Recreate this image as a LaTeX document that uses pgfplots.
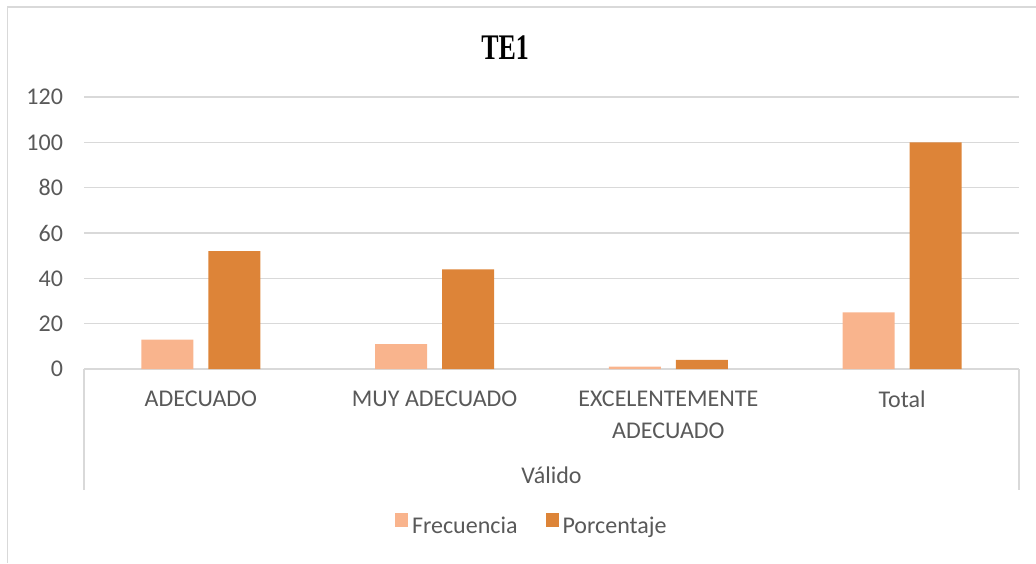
\documentclass[border=0pt]{standalone}
\usepackage{pgfplots}
\pgfplotsset{compat=1.18}
\usepackage{fontspec}
\setmainfont{Carlito}
\newfontfamily\titlefont[FakeStretch=0.72]{Liberation Serif}
\definecolor{fre}{HTML}{F9B48D}
\definecolor{por}{HTML}{DD8438}
\definecolor{gridc}{HTML}{D9D9D9}
\definecolor{txt}{HTML}{595959}
\begin{document}
\begin{tikzpicture}
\useasboundingbox (-42pt,-97pt) rectangle (476pt,184.5pt);
\draw[gridc, line width=0.75pt] (-38.25pt,-97pt) -- (-38.25pt,181pt) -- (476pt,181pt);
\begin{axis}[
  name=ax,
  at={(0,0)}, anchor=south west,
  scale only axis,
  width=467.5pt, height=136pt,
  xmin=-0.5, xmax=3.5, ymin=0, ymax=120,
  ytick={0,20,...,120},
  xtick={0,1,2,3},
  xticklabels={ADECUADO, MUY ADECUADO, {EXCELENTEMENTE\\ADECUADO}, Total},
  major tick length=0pt,
  axis x line*=bottom, axis y line*=left,
  x axis line style={draw=gridc, line width=0.6pt},
  y axis line style={draw=none},
  ymajorgrids, major grid style={draw=gridc, line width=0.6pt},
  /pgf/number format/assume math mode=true,
  tick label style={font=\fontsize{12}{16}\selectfont, text=txt},
  yticklabel style={xshift=-7pt},
  xticklabel style={align=center, anchor=north, yshift=-7.6pt},
  title={TE1},
  title style={font=\titlefont\bfseries\fontsize{18}{20}\selectfont, text=black, at={(axis description cs:0.4503,1.1397)}, anchor=base, yshift=-6pt},
  xlabel={Válido},
  xlabel style={font=\fontsize{12}{14}\selectfont, text=txt, at={(axis description cs:0.5,0)}, anchor=base, yshift=-57pt},
  ybar, bar width=26pt,
  legend columns=2,
  legend style={draw=none, at={(axis description cs:0.48,-0.581)}, anchor=center,
    font=\fontsize{12}{14}\selectfont, text=txt,
    /tikz/every even column/.append style={column sep=12pt}},
  legend image code/.code={\fill[#1] (-0.5pt,0pt) rectangle (6pt,6.8pt);},
]
\addplot[fill=fre, draw=none, bar shift=-16.75pt] coordinates {(0,13) (1,11) (2,1) (3,25)};
\addplot[fill=por, draw=none, bar shift=16.75pt] coordinates {(0,52) (1,44) (2,4) (3,100)};
\legend{Frecuencia, Porcentaje}
\end{axis}
\draw[gridc, line width=0.6pt] (ax.south west) -- ++(0,-60.5pt);
\draw[gridc, line width=0.6pt] (ax.south east) -- ++(0,-60.5pt);
\end{tikzpicture}
\end{document}
